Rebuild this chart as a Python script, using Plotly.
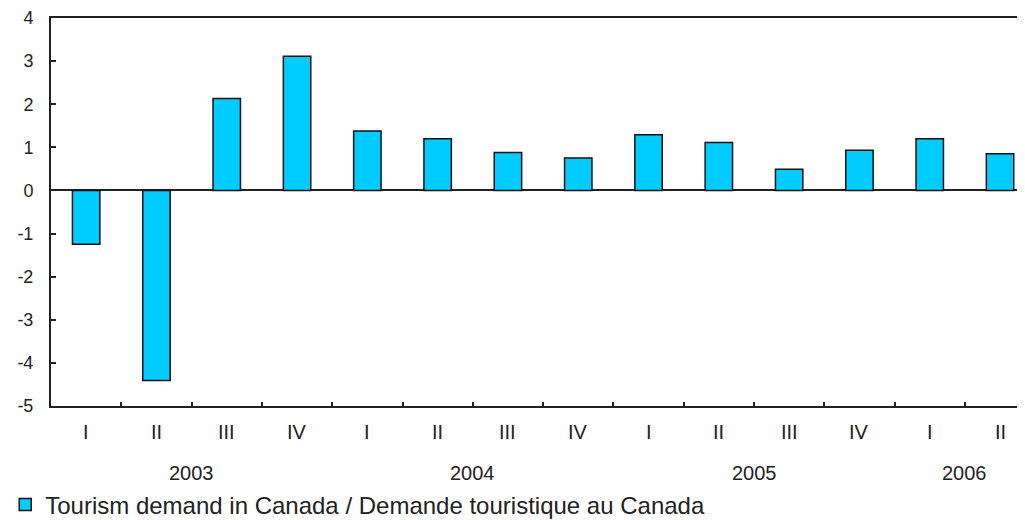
import plotly.graph_objects as go

quarters = ["I", "II", "III", "IV", "I", "II", "III", "IV", "I", "II", "III", "IV", "I", "II"]
values = [-1.25, -4.41, 2.13, 3.11, 1.38, 1.20, 0.88, 0.75, 1.29, 1.11, 0.49, 0.93, 1.20, 0.85]
years = ["2003", "2004", "2005", "2006"]
year_pos = [1.5, 5.5, 9.5, 12.5]
y_ticks = [4, 3, 2, 1, 0, -1, -2, -3, -4, -5]
series_name = "Tourism demand in Canada / Demande touristique au Canada"

x_idx = list(range(len(values)))

fig = go.Figure()
fig.add_trace(go.Bar(
    x=x_idx, y=values, name=series_name, width=0.39,
    marker=dict(color="#00CCFF", line=dict(color="#111111", width=1.5)),
    showlegend=True,
))

font_main = "Liberation Sans, Arial, sans-serif"
ann = []
for i, q in enumerate(quarters):
    ann.append(dict(x=i, y=-0.066, xref="x", yref="paper", text=q, showarrow=False,
                    font=dict(family=font_main, size=20, color="#222222"),
                    xanchor="center", yanchor="middle"))
for yr, p in zip(years, year_pos):
    ann.append(dict(x=p, y=-0.172, xref="x", yref="paper", text=yr, showarrow=False,
                    font=dict(family=font_main, size=20, color="#222222"),
                    xanchor="center", yanchor="middle"))

# page body adds an 8px offset, so the figure is 8px smaller and margins reduced
fig.update_layout(
    width=1017, height=512,
    margin=dict(l=43, r=0, t=10, b=114, autoexpand=False),
    paper_bgcolor="white", plot_bgcolor="white",
    annotations=ann,
    showlegend=True,
    legend=dict(orientation="h", x=-0.047, y=-0.255, xanchor="left", yanchor="middle",
                font=dict(family=font_main, size=24, color="#222222"),
                itemwidth=30, bgcolor="rgba(0,0,0,0)", tracegroupgap=0),
    xaxis=dict(range=[-0.5, 13.355], tickvals=[i + 0.5 for i in range(13)],
               ticktext=[""] * 13, ticks="inside", ticklen=4, tickwidth=1.5, tickcolor="#222222",
               showline=True, linecolor="#222222", linewidth=2, mirror=True,
               showgrid=False, zeroline=False, fixedrange=True),
    yaxis=dict(range=[-5, 4], tickvals=y_ticks, ticktext=[str(v) for v in y_ticks],
               ticks="inside", ticklen=5, tickwidth=1.5, tickcolor="#222222",
               showline=True, linecolor="#222222", linewidth=2, mirror=False,
               showgrid=False, zeroline=True, zerolinecolor="#222222", zerolinewidth=1.5,
               ticklabelstandoff=12,
               tickfont=dict(family=font_main, size=18, color="#222222"), fixedrange=True),
)

fig.write_html("out.html")
